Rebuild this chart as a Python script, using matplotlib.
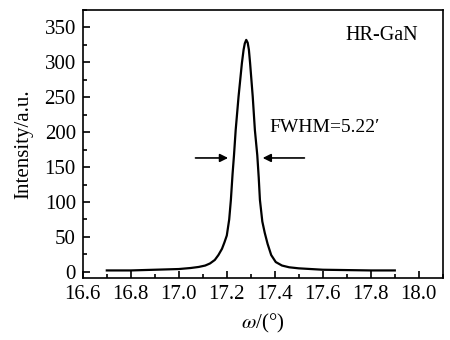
import matplotlib
matplotlib.use('Agg')
import matplotlib.pyplot as plt
from matplotlib.ticker import MultipleLocator

plt.rcParams['font.family'] = ['Liberation Serif', 'DejaVu Serif']
plt.rcParams['mathtext.fontset'] = 'stix'

# rocking curve
omega = [16.70, 16.80, 16.90, 17.00, 17.05, 17.083, 17.11, 17.13, 17.15, 17.165,
         17.18, 17.19, 17.20, 17.21, 17.217, 17.224, 17.230, 17.237, 17.249, 17.263,
         17.270, 17.275, 17.281, 17.287, 17.292, 17.297, 17.308, 17.317, 17.327, 17.333,
         17.338, 17.348, 17.358, 17.370, 17.385, 17.404, 17.43, 17.46, 17.50, 17.55,
         17.60, 17.70, 17.80, 17.90]
intensity = [2, 2, 3, 4, 5.5, 7, 9, 12, 17, 24,
             33, 42, 52, 75, 103, 140, 167, 203, 251, 299,
             318, 327, 332, 328, 318, 299, 251, 203, 167, 135,
             103, 72, 56, 40, 24, 14, 9, 6.5, 5, 4,
             3, 2.5, 2, 2]

fig = plt.figure(figsize=(4.5, 3.4), dpi=100)
ax = fig.add_axes([0.184, 0.182, 0.800, 0.789])
ax.plot(omega, intensity, color='black', lw=1.6, solid_joinstyle='round')

ax.set_xlim(16.6, 18.1)
ax.set_ylim(-9, 375)
ax.xaxis.set_major_locator(MultipleLocator(0.2))
ax.xaxis.set_minor_locator(MultipleLocator(0.1))
ax.yaxis.set_major_locator(MultipleLocator(50))
ax.yaxis.set_minor_locator(MultipleLocator(25))
ax.tick_params(which='both', direction='in', top=False, right=False, labelsize=15, width=1.2)
ax.tick_params(which='major', length=5, pad=5)
ax.tick_params(which='minor', length=3)
ax.xaxis.set_major_formatter(plt.FuncFormatter(lambda v, p: '%.1f' % v))
for s in ax.spines.values():
    s.set_linewidth(1.2)

ax.set_xlabel(r'$\omega$/(°)', fontsize=15, labelpad=6)
ax.set_ylabel('Intensity/a.u.', fontsize=15, labelpad=8)

ax.text(17.694, 339, 'HR-GaN', fontsize=14.5, va='center', ha='left')
ax.text(17.376, 206, "FWHM=5.22′", fontsize=14, va='center', ha='left')

arrow = dict(arrowstyle='-|>', color='black', lw=1.2, mutation_scale=12)
ax.annotate('', xy=(17.217, 163), xytext=(17.058, 163), arrowprops=arrow)
ax.annotate('', xy=(17.338, 163), xytext=(17.535, 163), arrowprops=arrow)

fig.savefig('out.png', dpi=100)
